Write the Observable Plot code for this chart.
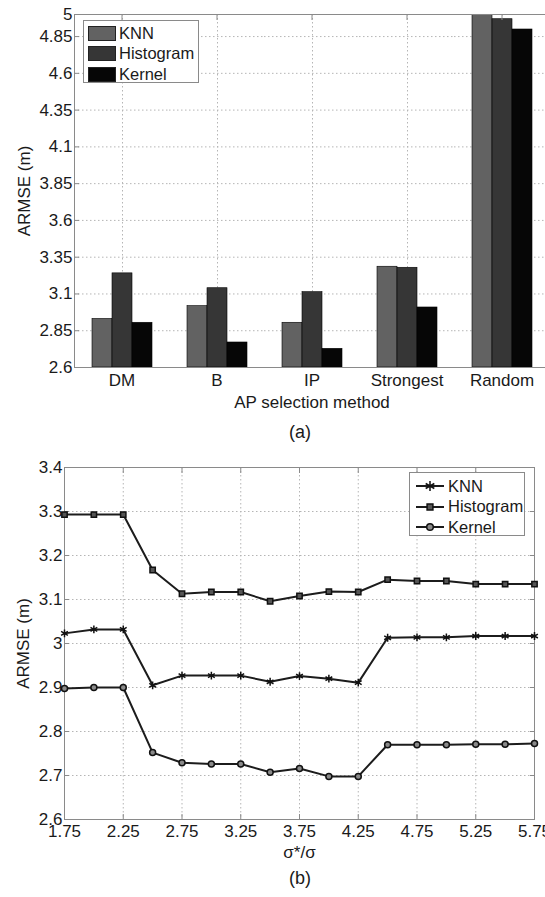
<!DOCTYPE html>
<html><head><meta charset="utf-8">
<script src="https://cdn.jsdelivr.net/npm/d3@7"></script>
<script src="https://cdn.jsdelivr.net/npm/@observablehq/plot@0.6"></script>
<style>
html,body{margin:0;padding:0;background:#fff;}
#wrap{position:relative;width:545px;height:897px;overflow:hidden;font-family:"Liberation Sans",Arial,sans-serif;color:#1a1a1a;}
#chartA{position:absolute;left:0;top:0;}
#chartB{position:absolute;left:0;top:420px;}
.cap{position:absolute;font-size:18px;transform:translate(-50%,-50%);white-space:nowrap;}
.legend{position:absolute;border:1px solid #8a8a8a;background:#fff;font-size:16.5px;box-sizing:border-box;}
.row{position:absolute;left:0;display:flex;align-items:center;height:20px;}
.sw{width:28px;height:15px;border:1px solid #222;box-sizing:border-box;margin-left:4px;margin-right:3px;}
</style></head>
<body><div id="wrap">
<div id="chartA"></div>
<div id="chartB"></div>
<div class="cap" style="left:300px;top:432px;">(a)</div>
<div class="cap" style="left:300px;top:878px;">(b)</div>
<div class="legend" id="legA" style="left:83px;top:20px;width:116px;height:63px;"></div>
<div class="legend" id="legB" style="left:409px;top:472px;width:116px;height:64px;"></div>
</div>
<script>
// ---- Data (a): bar chart ----
const methods = ["DM", "B", "IP", "Strongest", "Random"];
const barSeries = ["KNN", "Histogram", "Kernel"];
const knnBars = [2.93, 3.017, 2.904, 3.285, 4.998];
const histogramBars = [3.24, 3.139, 3.112, 3.278, 4.968];
const kernelBars = [2.904, 2.77, 2.727, 3.008, 4.898];
const barYTicks = [2.6, 2.85, 3.1, 3.35, 3.6, 3.85, 4.1, 4.35, 4.6, 4.85, 5];
const barColors = ["#626262", "#363636", "#060606"];

// ---- Data (b): line chart ----
const sigmaRatio = [1.75, 2, 2.25, 2.5, 2.75, 3, 3.25, 3.5, 3.75, 4, 4.25, 4.5, 4.75, 5, 5.25, 5.5, 5.75];
const knnLine = [3.023, 3.032, 3.032, 2.905, 2.927, 2.927, 2.927, 2.913, 2.926, 2.920, 2.911, 3.013, 3.014, 3.014, 3.017, 3.017, 3.017];
const histogramLine = [3.293, 3.293, 3.293, 3.167, 3.113, 3.117, 3.117, 3.096, 3.108, 3.118, 3.117, 3.145, 3.142, 3.142, 3.135, 3.135, 3.135];
const kernelLine = [2.898, 2.9, 2.9, 2.752, 2.729, 2.726, 2.726, 2.7075, 2.716, 2.698, 2.698, 2.770, 2.770, 2.770, 2.771, 2.771, 2.773];
const lineXTicks = [1.75, 2.25, 2.75, 3.25, 3.75, 4.25, 4.75, 5.25, 5.75];
const lineYTicks = [2.6, 2.7, 2.8, 2.9, 3, 3.1, 3.2, 3.3, 3.4];
const lineSymbols = ["asterisk", "square", "circle"];
const lineFills = ["none", "#555", "#8a8a8a"];

const FONT = "'Liberation Sans', Arial, sans-serif";
const FS = 17;
const gridStyle = {stroke: "#b5b5b5", strokeOpacity: 1, strokeDasharray: "1.5,2.5", strokeWidth: 1};
const axisGray = "#8a8a8a";

// ---- Chart (a) ----
const barValues = [knnBars, histogramBars, kernelBars];
const barData = methods.flatMap((m, i) => barSeries.map((s, j) => ({method: m, series: s, value: barValues[j][i]})));

const chartA = Plot.plot({
  width: 545, height: 420,
  marginTop: 14, marginBottom: 53, marginLeft: 73, marginRight: -5,
  style: {fontFamily: FONT, fontSize: FS + "px", color: "#1a1a1a", background: "transparent", overflow: "hidden"},
  fx: {domain: methods, padding: 0},
  x: {domain: barSeries, paddingInner: 0, paddingOuter: 0.77, axis: null},
  y: {domain: [2.6, 5], clamp: true},
  color: {domain: barSeries, range: barColors},
  marks: [
    Plot.gridY(barYTicks, gridStyle),
    Plot.ruleX([barSeries[1]], gridStyle),
    Plot.barY(barData, {fx: "method", x: "series", y: "value", fill: "series", stroke: "#000", strokeWidth: 0.6}),
    Plot.ruleY([5], {stroke: axisGray}),
    Plot.ruleY([2.6], {stroke: axisGray}),
    Plot.frame({anchor: "left", facetAnchor: "left", stroke: axisGray}),
    Plot.axisY(barYTicks, {tickSize: 0, tickPadding: 2, fontSize: FS, tickFormat: d => String(d), label: "ARMSE (m)", labelAnchor: "center", labelArrow: "none", labelOffset: 57}),
    Plot.axisY(barYTicks, {tickSize: -5, fill: "none", stroke: axisGray, label: null}),
    Plot.axisFx({anchor: "bottom", tickSize: 0, tickPadding: 6, fontSize: FS, label: "AP selection method", labelAnchor: "center", labelArrow: "none", labelOffset: 40}),
    Plot.axisFx({anchor: "top", tickSize: -5, fill: "none", stroke: axisGray, label: null})
  ]
});
document.getElementById("chartA").append(chartA);

// ---- Chart (b) ----
const lineValues = [knnLine, histogramLine, kernelLine];
const lineData = barSeries.flatMap((s, j) => sigmaRatio.map((r, i) => ({series: s, ratio: r, value: lineValues[j][i]})));

const chartB = Plot.plot({
  width: 545, height: 477,
  marginTop: 47, marginBottom: 78, marginLeft: 64, marginRight: 11,
  style: {fontFamily: FONT, fontSize: FS + "px", color: "#1a1a1a", background: "transparent"},
  x: {domain: [1.75, 5.75]},
  y: {domain: [2.6, 3.4]},
  symbol: {domain: barSeries, range: lineSymbols},
  marks: [
    Plot.gridX(lineXTicks, gridStyle),
    Plot.gridY(lineYTicks, gridStyle),
    Plot.frame({stroke: axisGray}),
    Plot.axisX(lineXTicks, {tickSize: 0, tickPadding: 5, fontSize: FS, tickFormat: d => String(d), label: "σ*/σ", labelAnchor: "center", labelArrow: "none", labelOffset: 38}),
    Plot.axisX(lineXTicks, {tickSize: -5, fill: "none", stroke: axisGray, label: null}),
    Plot.axisX(lineXTicks, {anchor: "top", tickSize: -5, fill: "none", stroke: axisGray, label: null}),
    Plot.axisY(lineYTicks, {tickSize: 0, tickPadding: 2, fontSize: FS, tickFormat: d => String(d), label: "ARMSE (m)", labelAnchor: "center", labelArrow: "none", labelOffset: 48}),
    Plot.axisY(lineYTicks, {tickSize: -5, fill: "none", stroke: axisGray, label: null}),
    Plot.axisY(lineYTicks, {anchor: "right", tickSize: -5, fill: "none", stroke: axisGray, label: null}),
    Plot.line(lineData, {x: "ratio", y: "value", z: "series", stroke: "#1c1c1c", strokeWidth: 2}),
    Plot.dot(lineData, {x: "ratio", y: "value", symbol: "series", r: d => d.series === "KNN" ? 5 : 3.3,
      stroke: "#111", strokeWidth: 1.5, fill: d => lineFills[barSeries.indexOf(d.series)]})
  ]
});
document.getElementById("chartB").append(chartB);

// ---- Legends ----
const legA = document.getElementById("legA");
barSeries.forEach((s, j) => {
  const row = document.createElement("div");
  row.className = "row";
  row.style.top = (2 + j * 20.5) + "px";
  row.innerHTML = `<div class="sw" style="background:${barColors[j]}"></div><span>${s}</span>`;
  legA.append(row);
});
const legB = document.getElementById("legB");
const symPaths = {
  asterisk: d3.symbol(d3.symbolAsterisk, 70)(),
  square: d3.symbol(d3.symbolSquare, 34)(),
  circle: d3.symbol(d3.symbolCircle, 34)()
};
barSeries.forEach((s, j) => {
  const row = document.createElement("div");
  row.className = "row";
  row.style.top = (3 + j * 20.5) + "px";
  row.innerHTML = `<svg width="38" height="20" style="display:block"><line x1="6" x2="34" y1="10" y2="10" stroke="#1c1c1c" stroke-width="2"/>` +
    `<path transform="translate(20,10)" d="${symPaths[lineSymbols[j]]}" fill="${lineFills[j]}" stroke="#111" stroke-width="1.5"/></svg><span>${s}</span>`;
  legB.append(row);
});
</script>
</body></html>
